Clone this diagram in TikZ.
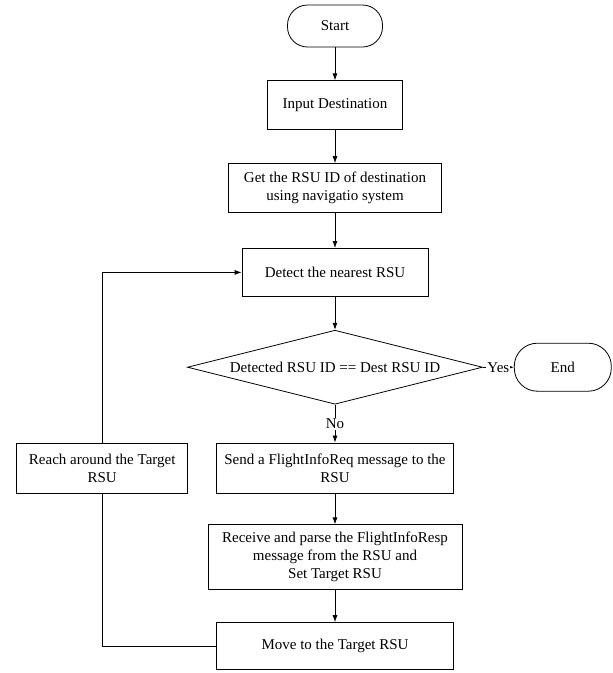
\documentclass[tikz,border=0pt]{standalone}
\usepackage{fontspec}
\setmainfont{Liberation Serif}
\usetikzlibrary{shapes.geometric, arrows.meta, positioning}

\begin{document}
\begin{tikzpicture}[
			x=1pt, y=1pt,
			node distance=33pt,
			every node/.style={font=\fontsize{15}{18}\selectfont},
			terminal/.style={
				rectangle,
				rounded corners=20pt,
				minimum width=95pt,
				minimum height=42pt,
				text centered,
				draw=black,
				line width=0.8pt
			},
			process/.style={
				rectangle,
				minimum height=49pt,
				inner sep=4pt,
				text centered,
				align=center,
				draw=black,
				line width=0.8pt
			},
			decision/.style={
				diamond,
				aspect=4,
				inner sep=0pt,
				minimum width=295pt,
				minimum height=74pt,
				text centered,
				align=center,
				draw=black,
				line width=0.8pt
			},
			arrow/.style={line width=0.8pt,-{Latex[length=7pt,width=5pt]}},
			line/.style={line width=0.8pt}
			]
			\useasboundingbox (0,0) rectangle (613,-673);
			
			% Nodes
			\node (start) [terminal] at (335,-26) {Start};
			\node (input) [process, minimum width=135pt, below=of start] {Input Destination};
			\node (getid) [process, minimum width=213pt, below=of input] {Get the RSU ID of destination \\ using navigatio system};
			\node (detect) [process, minimum width=186pt, minimum height=48pt, below=35pt of getid] {Detect the nearest RSU};
			\node (check) [decision, below=of detect] {Detected RSU ID == Dest RSU ID};
			\node (stop) [terminal, minimum width=97pt, minimum height=48pt, rounded corners=23pt, right=31pt of check] {End};
			
			\node (send) [process, minimum width=237pt, minimum height=50pt, below=38pt of check] 
			{Send a FlightInfoReq message to the \\ RSU};
			\node (receive) [process, minimum width=254pt, minimum height=65pt, below=31pt of send] 
			{Receive and parse the FlightInfoResp \\ message from the RSU and \\ Set Target RSU};
			\node (move) [process, minimum width=237pt, minimum height=47pt, below=32pt of receive] {Move to the Target RSU};
			
			\node (reach) [process, minimum width=171pt, minimum height=50pt, left=28pt of send] 
			{Reach around the Target \\ RSU};
			
			% Arrows
			\draw [arrow] (start) -- (input);
			\draw [arrow] (input) -- (getid);
			\draw [arrow] (getid) -- (detect);
			\draw [arrow] (detect) -- (check);
			\draw [arrow] (check) -- node[fill=white, inner sep=1pt] {Yes} (stop);
			\draw [arrow] (check) -- node[fill=white, inner sep=1pt] {No} (send);
			\draw [arrow] (send) -- (receive);
			\draw [arrow] (receive) -- (move);
			\draw [line] (move.west) -| (reach.south);
			\draw [arrow] (reach.north) |- (detect.west);
			
		\end{tikzpicture}
\end{document}
